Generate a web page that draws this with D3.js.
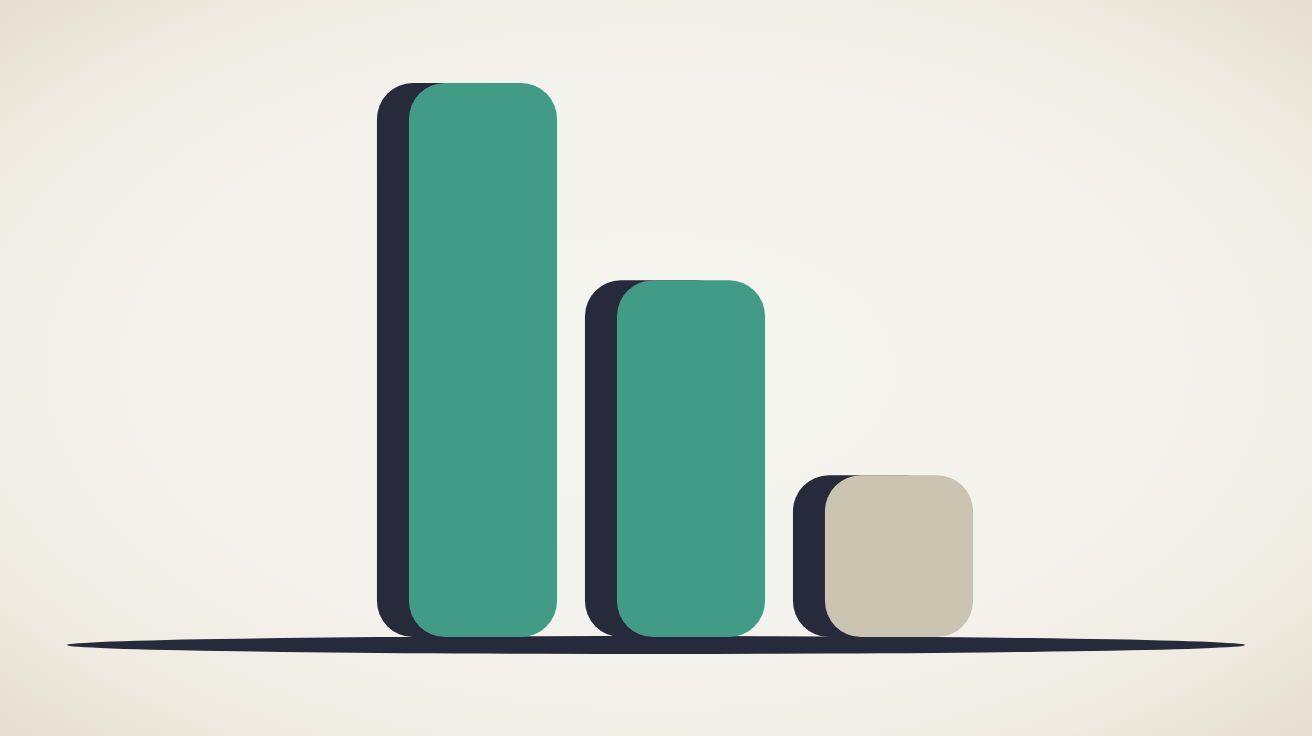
<!DOCTYPE html>
<html>
<head>
<meta charset="utf-8">
<script src="https://cdn.jsdelivr.net/npm/d3@7"></script>
<style>
  html, body { margin: 0; padding: 0; background: #f4f3ee; }
  svg { display: block; }
</style>
</head>
<body>
<svg width="1312" height="736"></svg>
<script>
// chart data
var categories = ['A', 'B', 'C'];
var values = [100, 64.4, 29.2];
var palette = ['#429b85', '#429b85', '#cbc4b1'];

var svgctrl = d3.select('svg');
var W = 1312, H = 736;
var baseY = 637;

// vignette background
var defs = svgctrl.append('defs');
var grad = defs.append('radialGradient').attr('id', 'bg').attr('cx', 0.5).attr('cy', 0.5).attr('r', 0.72);
grad.append('stop').attr('offset', '0%').attr('stop-color', '#f5f5f0');
grad.append('stop').attr('offset', '55%').attr('stop-color', '#f3f2ec');
grad.append('stop').attr('offset', '80%').attr('stop-color', '#efebe0');
grad.append('stop').attr('offset', '100%').attr('stop-color', '#e3ddcf');
svgctrl.append('rect').attr('width', W).attr('height', H).attr('fill', 'url(#bg)');

var x = d3.scaleBand().domain(categories).range([379, 1003]).paddingInner(0.288).paddingOuter(0.144);
var y = d3.scaleLinear().domain([0, 100]).range([baseY, 83]);

var r = 36, shift = 32, dark = '#262a3b';

// baseline
svgctrl.append('ellipse').attr('cx', 656).attr('cy', 645).attr('rx', 589).attr('ry', 9).attr('fill', dark);

var g = svgctrl.append('g');
var bars = g.selectAll('g.bar').data(values).enter().append('g').attr('class', 'bar');

// dark back face
bars.append('rect')
  .attr('x', function(d, i) { return x(categories[i]) - shift; })
  .attr('y', function(d) { return y(d); })
  .attr('width', x.bandwidth())
  .attr('height', function(d) { return baseY - y(d); })
  .attr('rx', r).attr('ry', r)
  .attr('fill', dark);

// front face
bars.append('rect')
  .attr('x', function(d, i) { return x(categories[i]); })
  .attr('y', function(d) { return y(d); })
  .attr('width', x.bandwidth())
  .attr('height', function(d) { return baseY - y(d); })
  .attr('rx', r).attr('ry', r)
  .attr('fill', function(d, i) { return palette[i]; });
</script>
</body>
</html>
